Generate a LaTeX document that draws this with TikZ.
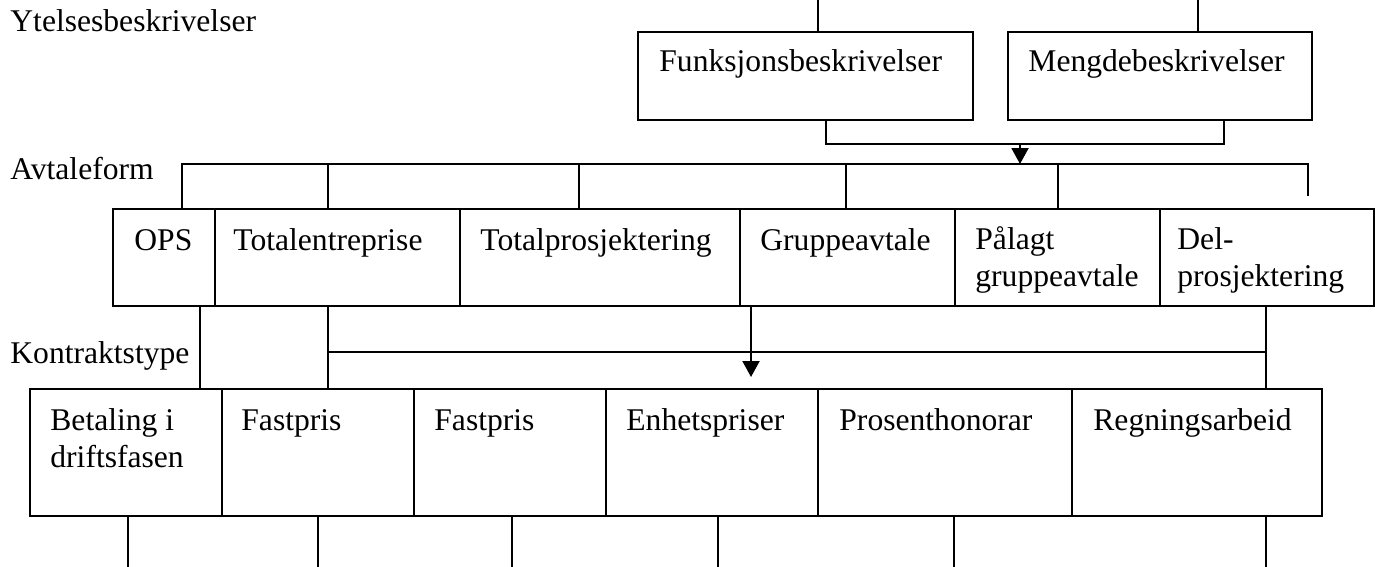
\documentclass[tikz,border=0pt]{standalone}
\usepackage{fontspec}
\setmainfont{Liberation Serif}
\usetikzlibrary{fit,arrows.meta}
\begin{document}
\begin{tikzpicture}[x=0.5pt,y=-0.5pt,
  box/.style={draw,line width=1pt,inner sep=0pt,rectangle},
  txt/.style={anchor=base west,inner sep=0pt,font=\fontsize{15.8}{18.5}\selectfont},
  conn/.style={line width=1pt},
  arr/.style={line width=1pt,-{Triangle[width=8.5pt,length=8pt]}}]
\useasboundingbox (0,0) rectangle (1375,567);

% row labels
\node[txt] (lY) at (10,32) {Ytelsesbeskrivelser};
\node[txt] (lA) at (10,179) {Avtaleform};
\node[txt] (lK) at (10,363) {Kontraktstype};

% top boxes
\node[box,fit={(638,32) (973,120)}] (F) {};
\node[txt] (tF) at (659,72) {Funksjonsbeskrivelser};
\node[box,fit={(1008,32) (1312,120)}] (M) {};
\node[txt] (tM) at (1028,72) {Mengdebeskrivelser};

% middle boxes
\node[box,fit={(113,209) (215,306)}] (OPS) {};
\node[txt] (tOPS) at (134,250) {OPS};
\node[box,fit={(215,209) (460,306)}] (TE) {};
\node[txt] (tTE) at (233,250) {Totalentreprise};
\node[box,fit={(460,209) (740,306)}] (TP) {};
\node[txt] (tTP) at (480,250) {Totalprosjektering};
\node[box,fit={(740,209) (955,306)}] (GA) {};
\node[txt] (tGA) at (760,250) {Gruppeavtale};
\node[box,fit={(955,209) (1160,306)}] (PG) {};
\node[txt] (tPG) at (975,249) {\vtop{\hbox{Pålagt}\hbox{gruppeavtale}}};
\node[box,fit={(1160,209) (1374,306)}] (DP) {};
\node[txt] (tDP) at (1177,249) {\vtop{\hbox{Del-}\hbox{prosjektering}}};

% bottom boxes
\node[box,fit={(29.5,389) (222,516)}] (BD) {};
\node[txt] (tBD) at (50,430) {\vtop{\hbox{Betaling i}\hbox{driftsfasen}}};
\node[box,fit={(222,389) (414,516)}] (FP1) {};
\node[txt] (tFP1) at (241,430) {Fastpris};
\node[box,fit={(414,389) (606,516)}] (FP2) {};
\node[txt] (tFP2) at (434,430) {Fastpris};
\node[box,fit={(606,389) (818,516)}] (EP) {};
\node[txt] (tEP) at (626,430) {Enhetspriser};
\node[box,fit={(818,389) (1072,516)}] (PH) {};
\node[txt] (tPH) at (839,430) {Prosenthonorar};
\node[box,fit={(1072,389) (1322,516)}] (RA) {};
\node[txt] (tRA) at (1093,430) {Regningsarbeid};

% lines from top edge
\coordinate (u1) at (818,0);
\coordinate (u2) at (1198,0);
\draw[conn] (u1) -- (u1 |- F.north);
\draw[conn] (u2) -- (u2 |- M.north);

% connector between top boxes and arrow
\coordinate (t1) at (826,144);
\coordinate (t2) at (1224,144);
\coordinate (t3) at (1020,144);
\draw[conn] (t1 |- F.south) -- (t1) -- (t2) -- (t2 |- M.south);

% Avtaleform bus
\coordinate (aL) at (182,164);
\coordinate (a2) at (328,164);
\coordinate (a3) at (579,164);
\coordinate (a4) at (846,164);
\coordinate (a5) at (1058,164);
\coordinate (aR) at (1308,164);
\coordinate (aE) at (1308,196);
\draw[arr] (t3) -- (t3 |- aL);
\draw[conn] (aL |- OPS.north) -- (aL) -- (aR) -- (aE);
\draw[conn] (a2) -- (a2 |- TE.north);
\draw[conn] (a3) -- (a3 |- TP.north);
\draw[conn] (a4) -- (a4 |- GA.north);
\draw[conn] (a5) -- (a5 |- PG.north);

% middle to bottom connectors
\coordinate (m1) at (200,352);
\coordinate (m2) at (328,352);
\coordinate (m3) at (1266,352);
\coordinate (m4) at (751,377);
\draw[conn] (m1 |- OPS.south) -- (m1 |- BD.north);
\draw[conn] (m2 |- TE.south) -- (m2 |- FP1.north);
\draw[conn] (m2) -- (m3);
\draw[conn] (m3 |- DP.south) -- (m3 |- RA.north);
\draw[arr] (m4 |- GA.south) -- (m4);

% lines to bottom edge
\coordinate (b1) at (128,567);
\coordinate (b2) at (318,567);
\coordinate (b3) at (512,567);
\coordinate (b4) at (718,567);
\coordinate (b5) at (954,567);
\coordinate (b6) at (1266,567);
\draw[conn] (b1 |- BD.south) -- (b1);
\draw[conn] (b2 |- FP1.south) -- (b2);
\draw[conn] (b3 |- FP2.south) -- (b3);
\draw[conn] (b4 |- EP.south) -- (b4);
\draw[conn] (b5 |- PH.south) -- (b5);
\draw[conn] (b6 |- RA.south) -- (b6);
\end{tikzpicture}
\end{document}
